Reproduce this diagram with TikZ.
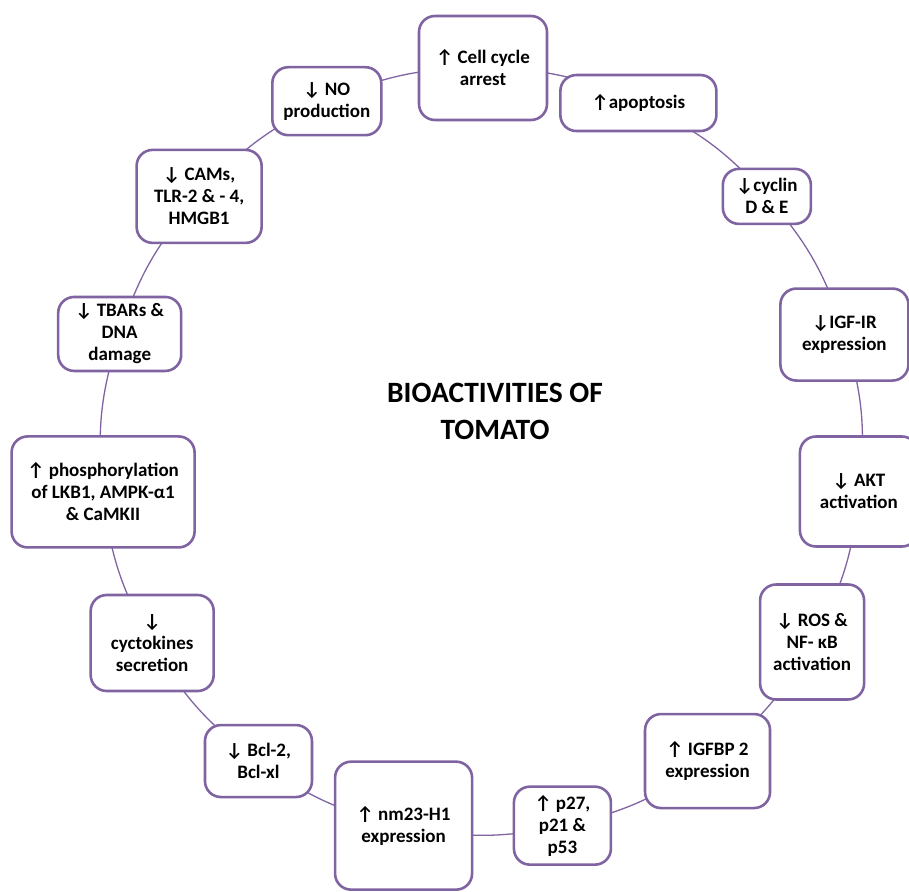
\documentclass[tikz,border=0pt]{standalone}
\usepackage{fontspec}
\setmainfont{Carlito}
\usetikzlibrary{backgrounds}

\definecolor{boxpurple}{HTML}{8064A2}

\tikzset{
  box/.style={draw=boxpurple, line width=2.6pt, rounded corners=16pt, fill=white,
    align=center, inner sep=3pt, font=\bfseries\fontsize{19}{22}\selectfont},
  link/.style={draw=boxpurple, line width=1.3pt},
}

\begin{document}
\begin{tikzpicture}[x=1pt, y=1pt]
\useasboundingbox (-483,-439) rectangle (426,452);

% boxes round the circle, every 24 degrees
\node[box, minimum width=128pt, minimum height=104pt] (cell)   at (90:384)   {↑ Cell cycle\\arrest};
\node[box, minimum width=156pt, minimum height=56pt]  (apop)   at (66:382)   {↑apoptosis};
\node[box, minimum width=88pt,  minimum height=55pt]  (cyclin) at (42:382)   {↓cyclin\\D \& E};
\node[box, minimum width=128pt, minimum height=92pt]  (igf)    at (18:380)   {↓IGF-IR\\expression};
\node[box, minimum width=118pt, minimum height=110pt] (akt)    at (-6:378)   {↓ AKT\\activation};
\node[box, minimum width=104pt, minimum height=115pt] (ros)    at (-30:380)  {↓ ROS \&\\NF- κB\\activation};
\node[box, minimum width=125pt, minimum height=94pt]  (igfbp)  at (-54:382)  {↑ IGFBP 2\\expression};
\node[box, minimum width=97pt,  minimum height=78pt]  (pgene)  at (-78:382)  {↑ p27,\\p21 \&\\p53};
\node[box, minimum width=137pt, minimum height=128pt] (nm)     at (-102:382) {↑ nm23-H1\\expression};
\node[box, minimum width=107pt, minimum height=72pt]  (bcl)    at (-126:382) {↓ Bcl-2,\\Bcl-xl};
\node[box, minimum width=123pt, minimum height=96pt]  (cyto)   at (-150:382) {↓\\cyctokines\\secretion};
\node[box, minimum width=183pt, minimum height=111pt] (phos)   at (-174:382) {↑ phosphorylation\\of LKB1, AMPK-α1\\\& CaMKII};
\node[box, minimum width=123pt, minimum height=74pt]  (tbars)  at (162:382)  {↓ TBARs \&\\DNA\\damage};
\node[box, minimum width=125pt, minimum height=93pt]  (cams)   at (138:382)  {↓ CAMs,\\TLR-2 \& - 4,\\HMGB1};
\node[box, minimum width=109pt, minimum height=68pt]  (no)     at (114:384)  {↓ NO\\production};

\node[font=\bfseries\fontsize{29.5}{37}\selectfont, align=center] (title) at (12,41) {BIOACTIVITIES OF\\TOMATO};

% the ring behind the boxes
\begin{scope}[on background layer]
\foreach \a/\b in {cell/apop, apop/cyclin, cyclin/igf, igf/akt, akt/ros, ros/igfbp,
  igfbp/pgene, pgene/nm, nm/bcl, bcl/cyto, cyto/phos, phos/tbars, tbars/cams, cams/no, no/cell}
\draw[link] (\a.center) to[bend left=12] (\b.center);
\end{scope}

\end{tikzpicture}
\end{document}
